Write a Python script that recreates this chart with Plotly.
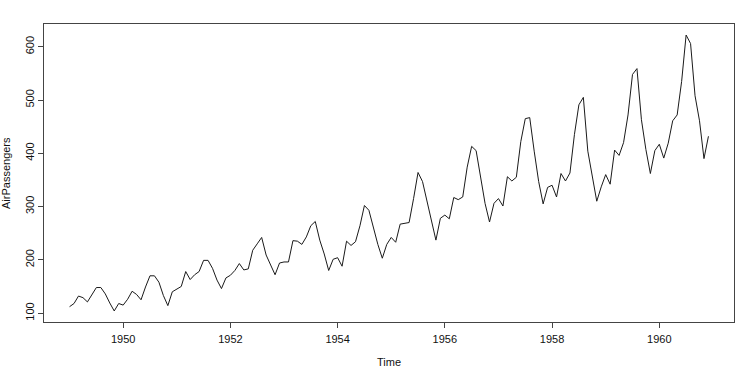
import plotly.graph_objects as go

years = list(range(1949, 1961))
passengers = [
    112, 118, 132, 129, 121, 135, 148, 148, 136, 119, 104, 118,
    115, 126, 141, 135, 125, 149, 170, 170, 158, 133, 114, 140,
    145, 150, 178, 163, 172, 178, 199, 199, 184, 162, 146, 166,
    171, 180, 193, 181, 183, 218, 230, 242, 209, 191, 172, 194,
    196, 196, 236, 235, 229, 243, 264, 272, 237, 211, 180, 201,
    204, 188, 235, 227, 234, 264, 302, 293, 259, 229, 203, 229,
    242, 233, 267, 269, 270, 315, 364, 347, 312, 274, 237, 278,
    284, 277, 317, 313, 318, 374, 413, 405, 355, 306, 271, 306,
    315, 301, 356, 348, 355, 422, 465, 467, 404, 347, 305, 336,
    340, 318, 362, 348, 363, 435, 491, 505, 404, 359, 310, 337,
    360, 342, 406, 396, 420, 472, 548, 559, 463, 407, 362, 405,
    417, 391, 419, 461, 472, 535, 622, 606, 508, 461, 390, 432,
]
x_ticks = [1950, 1952, 1954, 1956, 1958, 1960]
y_ticks = [100, 200, 300, 400, 500, 600]

time = [years[0] + i / 12 for i in range(len(passengers))]

xmin, xmax = min(time), max(time)
ymin, ymax = min(passengers), max(passengers)
xpad = (xmax - xmin) * 0.04
ypad = (ymax - ymin) * 0.04

W, H = 750, 378
L, R, T, B = 44, 16, 24, 56
pw, ph = W - L - R, H - T - B

fig = go.Figure()
fig.add_trace(go.Scatter(x=time, y=passengers, mode="lines",
                         line=dict(color="#1a1a1a", width=1), hoverinfo="skip"))

font = dict(family="Liberation Sans, Arial, sans-serif", size=11, color="#111111")

fig.update_layout(
    width=W, height=H,
    margin=dict(l=L, r=R, t=T, b=B),
    plot_bgcolor="white", paper_bgcolor="white",
    showlegend=False,
    font=font,
    xaxis=dict(range=[xmin - xpad, xmax + xpad], tickvals=x_ticks,
               ticktext=[str(v) for v in x_ticks], automargin=False,
               showgrid=False, zeroline=False, showline=True, mirror=True,
               linecolor="#444444", linewidth=1, ticks="outside", ticklen=5,
               tickcolor="#444444", tickfont=font, ticklabelstandoff=2),
    yaxis=dict(range=[ymin - ypad, ymax + ypad], tickvals=y_ticks,
               ticktext=[str(v) for v in y_ticks], tickangle=-90, automargin=False,
               showgrid=False, zeroline=False, showline=True, mirror=True,
               linecolor="#444444", linewidth=1, ticks="outside", ticklen=5,
               tickcolor="#444444", tickfont=font),
    annotations=[
        dict(text="Time", xref="paper", yref="paper",
             x=0.5, y=(H - B - 362) / ph, xanchor="center", yanchor="middle",
             showarrow=False, font=font),
        dict(text="AirPassengers", xref="paper", yref="paper",
             x=(6 - L) / pw, y=0.5, xanchor="center", yanchor="middle",
             textangle=-90, showarrow=False, font=font),
    ],
)

fig.write_html("out.html", config={"displayModeBar": False},
               post_script="document.body.style.margin='0';")
